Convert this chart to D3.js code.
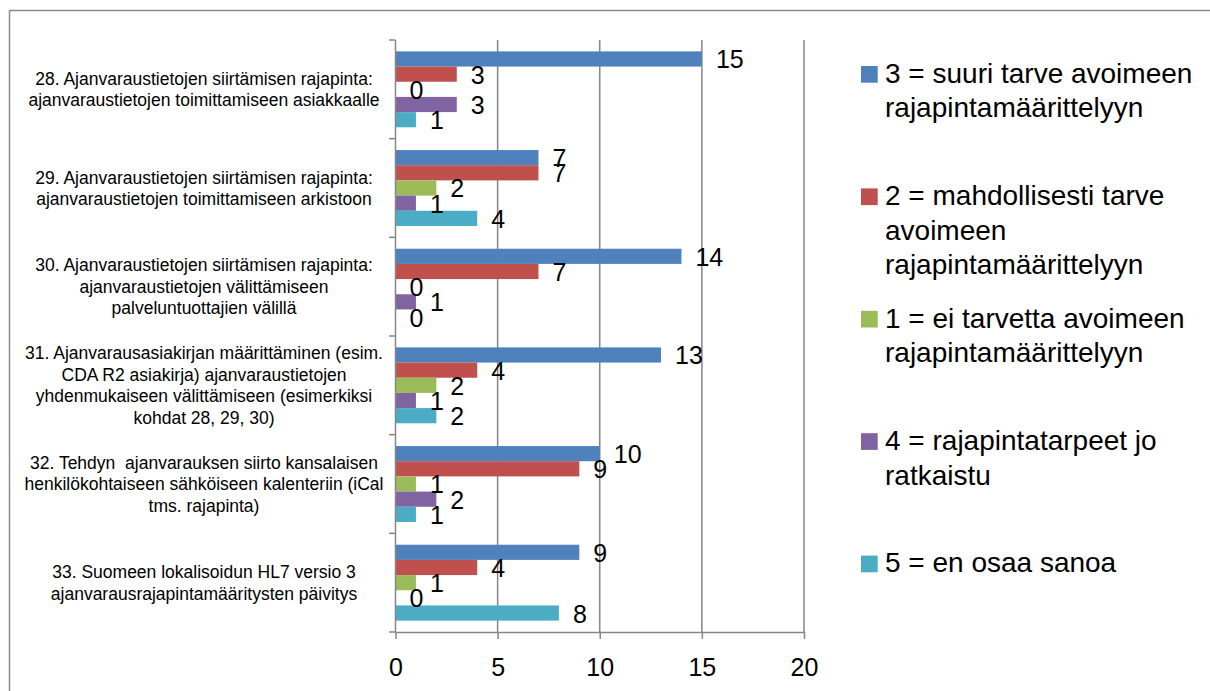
<!DOCTYPE html>
<html>
<head>
<meta charset="utf-8">
<script src="https://cdn.jsdelivr.net/npm/d3@7"></script>
<style>
  html, body { margin: 0; padding: 0; background: #fff; }
  svg { display: block; font-family: "Liberation Sans", Arial, sans-serif; }
</style>
</head>
<body>
<svg id="chart" width="1210" height="691"></svg>
<script>
// Survey items (one line break per "\n")
const categories = [
  "28. Ajanvaraustietojen siirtämisen rajapinta:\najanvaraustietojen toimittamiseen asiakkaalle",
  "29. Ajanvaraustietojen siirtämisen rajapinta:\najanvaraustietojen toimittamiseen arkistoon",
  "30. Ajanvaraustietojen siirtämisen rajapinta:\najanvaraustietojen välittämiseen\npalveluntuottajien välillä",
  "31. Ajanvarausasiakirjan määrittäminen (esim.\nCDA R2 asiakirja) ajanvaraustietojen\nyhdenmukaiseen välittämiseen (esimerkiksi\nkohdat 28, 29, 30)",
  "32. Tehdyn  ajanvarauksen siirto kansalaisen\nhenkilökohtaiseen sähköiseen kalenteriin (iCal\ntms. rajapinta)",
  "33. Suomeen lokalisoidun HL7 versio 3\najanvarausrajapintamääritysten päivitys"
];

// Answer options (legend order)
const seriesNames = [
  "3 = suuri tarve avoimeen\nrajapintamäärittelyyn",
  "2 = mahdollisesti tarve\navoimeen\nrajapintamäärittelyyn",
  "1 = ei tarvetta avoimeen\nrajapintamäärittelyyn",
  "4 = rajapintatarpeet jo\nratkaistu",
  "5 = en osaa sanoa"
];

// Number of answers per item, one array per answer option
const valuesSuuri      = [15, 7, 14, 13, 10, 9];
const valuesMahd       = [3, 7, 7, 4, 9, 4];
const valuesEiTarvetta = [0, 2, 0, 2, 1, 1];
const valuesRatkaistu  = [3, 1, 1, 1, 2, 0];
const valuesEnOsaa     = [1, 4, 0, 2, 1, 8];

const xTicks = [0, 5, 10, 15, 20];

const seriesColors = ["#4F81BD", "#C0504D", "#9BBB59", "#8064A2", "#4BACC6"];

const seriesValues = [valuesSuuri, valuesMahd, valuesEiTarvetta, valuesRatkaistu, valuesEnOsaa];
const series = seriesNames.map((name, i) => ({ name, color: seriesColors[i], values: seriesValues[i] }));

const svg = d3.select("#chart");
const axisColor = "#868686";

// Outer chart frame
svg.append("rect")
  .attr("x", 9.5).attr("y", 10.5)
  .attr("width", 1300).attr("height", 800)
  .attr("fill", "none").attr("stroke", "#8c8c8c").attr("stroke-width", 1.5);

// Scales
const x = d3.scaleLinear().domain([0, 20]).range([395.5, 804]);
const gapRatio = 1.5 / 6.5;
const y0 = d3.scaleBand().domain(d3.range(categories.length)).range([40, 632])
  .paddingInner(gapRatio).paddingOuter(gapRatio / 2);
const y1 = d3.scaleBand().domain(d3.range(series.length)).range([0, y0.bandwidth()]);

// Vertical gridlines
svg.append("g").selectAll("line")
  .data(xTicks.filter(d => d > 0))
  .join("line")
  .attr("x1", d => x(d)).attr("x2", d => x(d))
  .attr("y1", 40).attr("y2", 632)
  .attr("stroke", axisColor).attr("stroke-width", 1.5);

// Bars
const groups = svg.append("g").selectAll("g")
  .data(categories.map((c, ci) => ({ ci, c })))
  .join("g")
  .attr("transform", d => `translate(0,${y0(d.ci)})`);

groups.selectAll("rect")
  .data(d => series.map((s, si) => ({ si, v: s.values[d.ci], color: s.color })))
  .join("rect")
  .attr("x", x(0))
  .attr("y", d => y1(d.si))
  .attr("width", d => x(d.v) - x(0))
  .attr("height", y1.bandwidth())
  .attr("fill", d => d.color);

// Value labels
groups.selectAll("text")
  .data(d => series.map((s, si) => ({ si, v: s.values[d.ci] })))
  .join("text")
  .attr("x", d => x(d.v) + 14)
  .attr("y", d => y1(d.si) + y1.bandwidth() / 2 + 9.5)
  .attr("font-size", 25)
  .attr("fill", "#000")
  .text(d => d.v);

// X axis
const xAxis = svg.append("g")
  .attr("transform", "translate(0,632)")
  .call(d3.axisBottom(x).tickValues(xTicks).tickSize(7).tickPadding(19).tickSizeOuter(0));
xAxis.select(".domain").attr("stroke", axisColor).attr("stroke-width", 1.5);
xAxis.selectAll(".tick line").attr("stroke", axisColor).attr("stroke-width", 1.5);
xAxis.selectAll(".tick text").attr("font-size", 25).attr("fill", "#000")
  .attr("font-family", "\"Liberation Sans\", Arial, sans-serif");

// Y axis line with ticks at category boundaries
const boundaries = d3.range(categories.length + 1).map(i => y0.range()[0] + i * y0.step());
svg.append("line")
  .attr("x1", x(0)).attr("x2", x(0))
  .attr("y1", 40).attr("y2", 632)
  .attr("stroke", axisColor).attr("stroke-width", 1.5);
svg.append("g").selectAll("line")
  .data(boundaries)
  .join("line")
  .attr("x1", x(0) - 6.5).attr("x2", x(0))
  .attr("y1", d => d).attr("y2", d => d)
  .attr("stroke", axisColor).attr("stroke-width", 1.5);

// Category labels, centred on each band
const catLineHeight = 21.5;
svg.append("g").selectAll("text")
  .data(categories.map((c, ci) => ({ ci, lines: c.split("\n") })))
  .join("text")
  .attr("font-size", 17.5)
  .attr("fill", "#000")
  .attr("text-anchor", "middle")
  .style("white-space", "pre")
  .each(function (d) {
    const cy = y0(d.ci) + y0.bandwidth() / 2;
    const first = cy - (d.lines.length - 1) * catLineHeight / 2 + 6.3;
    d3.select(this).selectAll("tspan")
      .data(d.lines)
      .join("tspan")
      .attr("x", 204)
      .attr("y", (l, i) => first + i * catLineHeight)
      .text(l => l);
  });

// Legend
const legendStep = 122.4;
const legendLine = 34.7;
const legend = svg.append("g").selectAll("g")
  .data(series)
  .join("g")
  .attr("transform", (d, i) => `translate(861,${82.7 + i * legendStep})`);
legend.append("rect")
  .attr("x", 0).attr("y", -16.7)
  .attr("width", 16.7).attr("height", 16.7)
  .attr("fill", d => d.color);
legend.append("text")
  .attr("font-size", 28)
  .attr("fill", "#000")
  .selectAll("tspan")
  .data(d => d.name.split("\n"))
  .join("tspan")
  .attr("x", 24)
  .attr("y", (l, i) => i * legendLine)
  .text(l => l);
</script>
</body>
</html>
